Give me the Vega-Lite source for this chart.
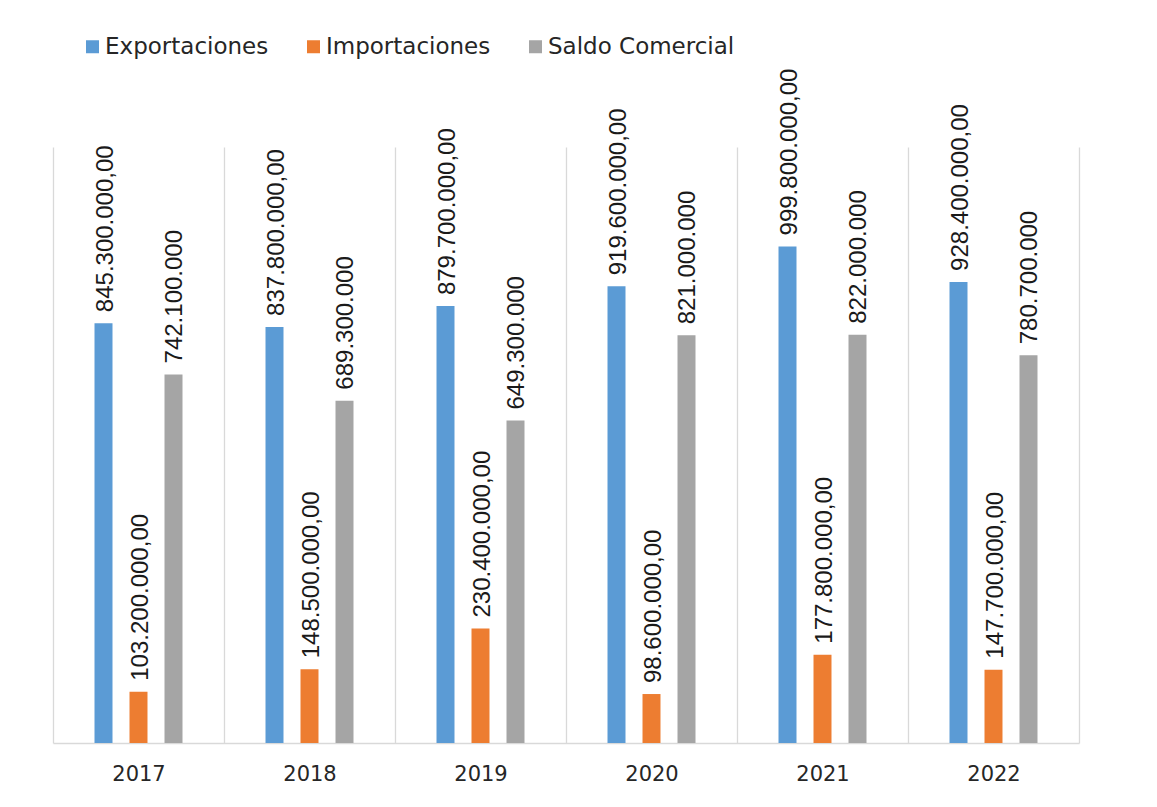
{
  "$schema": "https://vega.github.io/schema/vega-lite/v6.json",
  "width": 1026,
  "height": 596,
  "autosize": {"type": "none"},
  "padding": {"left": 53, "top": 147, "right": 78, "bottom": 64},
  "background": "white",
  "config": {"view": {"stroke": null}, "font": "DejaVu Sans"},
  "data": {
    "values": [
      {"year": "2017", "serie": "Exportaciones", "value": 845300000, "label": "845.300.000,00"},
      {"year": "2017", "serie": "Importaciones", "value": 103200000, "label": "103.200.000,00"},
      {"year": "2017", "serie": "Saldo Comercial", "value": 742100000, "label": "742.100.000"},
      {"year": "2018", "serie": "Exportaciones", "value": 837800000, "label": "837.800.000,00"},
      {"year": "2018", "serie": "Importaciones", "value": 148500000, "label": "148.500.000,00"},
      {"year": "2018", "serie": "Saldo Comercial", "value": 689300000, "label": "689.300.000"},
      {"year": "2019", "serie": "Exportaciones", "value": 879700000, "label": "879.700.000,00"},
      {"year": "2019", "serie": "Importaciones", "value": 230400000, "label": "230.400.000,00"},
      {"year": "2019", "serie": "Saldo Comercial", "value": 649300000, "label": "649.300.000"},
      {"year": "2020", "serie": "Exportaciones", "value": 919600000, "label": "919.600.000,00"},
      {"year": "2020", "serie": "Importaciones", "value": 98600000, "label": "98.600.000,00"},
      {"year": "2020", "serie": "Saldo Comercial", "value": 821000000, "label": "821.000.000"},
      {"year": "2021", "serie": "Exportaciones", "value": 999800000, "label": "999.800.000,00"},
      {"year": "2021", "serie": "Importaciones", "value": 177800000, "label": "177.800.000,00"},
      {"year": "2021", "serie": "Saldo Comercial", "value": 822000000, "label": "822.000.000"},
      {"year": "2022", "serie": "Exportaciones", "value": 928400000, "label": "928.400.000,00"},
      {"year": "2022", "serie": "Importaciones", "value": 147700000, "label": "147.700.000,00"},
      {"year": "2022", "serie": "Saldo Comercial", "value": 780700000, "label": "780.700.000"}
    ]
  },
  "encoding": {
    "x": {
      "field": "year",
      "type": "nominal",
      "scale": {"paddingInner": 0, "paddingOuter": 0},
      "axis": {
        "orient": "bottom",
        "title": null,
        "labelAngle": 0,
        "ticks": false,
        "tickBand": "extent",
        "grid": true,
        "gridColor": "#d9d9d9",
        "gridWidth": 1.3,
        "domainColor": "#d9d9d9",
        "domainWidth": 1.3,
        "labelFont": "DejaVu Sans",
        "labelFontSize": 21,
        "labelColor": "#262626",
        "labelPadding": 20
      }
    },
    "xOffset": {
      "field": "serie",
      "scale": {
        "domain": ["_a", "Exportaciones", "Importaciones", "Saldo Comercial", "_b"],
        "paddingInner": 0.486,
        "paddingOuter": 0.186
      }
    },
    "y": {
      "field": "value",
      "type": "quantitative",
      "scale": {"domain": [0, 1200000000], "nice": false},
      "axis": null
    }
  },
  "layer": [
    {
      "mark": {"type": "bar"},
      "encoding": {
        "color": {
          "field": "serie",
          "type": "nominal",
          "scale": {
            "domain": ["Exportaciones", "Importaciones", "Saldo Comercial"],
            "range": ["#5B9BD5", "#ED7D31", "#A5A5A5"]
          },
          "legend": {
            "title": null,
            "orient": "none",
            "direction": "horizontal",
            "legendX": 28,
            "legendY": -112,
            "symbolType": "square",
            "symbolSize": 169,
            "symbolStrokeWidth": 0,
            "labelFont": "DejaVu Sans",
            "labelFontSize": 23,
            "labelColor": "#262626",
            "labelOffset": 1,
            "columnPadding": 33,
            "labelLimit": 400
          }
        }
      }
    },
    {
      "mark": {
        "type": "text",
        "angle": 270,
        "align": "left",
        "baseline": "middle",
        "dx": 11,
        "dy": 2,
        "font": "Liberation Sans",
        "fontSize": 24,
        "color": "#1a1a1a"
      },
      "encoding": {"text": {"field": "label"}}
    }
  ]
}
